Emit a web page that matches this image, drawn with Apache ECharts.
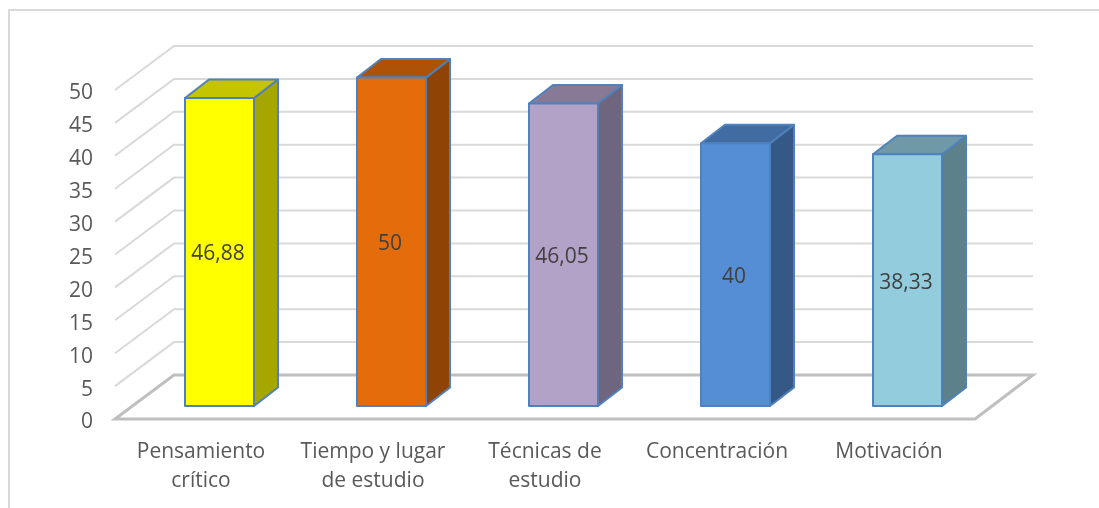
<!DOCTYPE html>
<html>
<head>
<meta charset="utf-8">
<style>html,body{margin:0;padding:0;background:#fff}#c{width:1099px;height:508px}</style>
<script src="https://cdn.jsdelivr.net/npm/echarts@6/dist/echarts.min.js"></script>
</head>
<body>
<div id="c"></div>
<script>
var categories = ['Pensamiento\ncrítico', 'Tiempo y lugar\nde estudio', 'Técnicas de\nestudio', 'Concentración', 'Motivación'];
var values = [46.88, 50, 46.05, 40, 38.33];
var valueLabels = ['46,88', '50', '46,05', '40', '38,33'];
var yTicks = [0, 5, 10, 15, 20, 25, 30, 35, 40, 45, 50];

var frontColors = ['#FFFF00', '#E46C0A', '#B3A2C7', '#558ED5', '#93CDDD'];
var topColors = ['#C4C400', '#AD5207', '#887A97', '#416CA2', '#7099A8'];
var sideColors = ['#A6A600', '#8F4405', '#70657E', '#355986', '#5C818B'];

var DEPTH_X = 59, DEPTH_Y = 44;
var BAR_SHIFT_X = 18.5, BAR_SHIFT_Y = 13, BAR_W = 69, SIDE_X = 24, SIDE_Y = 18.5;
var BORDER = '#4F81BD';
var FONT = '"Open Sans", sans-serif';

function renderWall(params, api) {
  var v = api.value(0);
  var a = api.coord([0, v]);
  var left = params.coordSys.x;
  var right = left + params.coordSys.width;
  var y = a[1];
  if (v === 0) {
    return {
      type: 'polygon',
      shape: { points: [[left, y], [right, y], [right + DEPTH_X - 1, y - DEPTH_Y], [left + DEPTH_X, y - DEPTH_Y]] },
      style: { fill: 'none', stroke: '#BFBFBF', lineWidth: 3, lineJoin: 'miter' }
    };
  }
  return {
    type: 'polyline',
    shape: { points: [[left, y], [left + DEPTH_X, y - DEPTH_Y], [right + DEPTH_X - 1, y - DEPTH_Y]] },
    style: { fill: 'none', stroke: '#D9D9D9', lineWidth: 2 }
  };
}

function renderBar(params, api) {
  var i = api.value(0);
  var top = api.coord([i, api.value(1)]);
  var base = api.coord([i, 0]);
  var x0 = top[0] + BAR_SHIFT_X - BAR_W / 2, x1 = x0 + BAR_W;
  var yT = top[1] - BAR_SHIFT_Y + 0.5, yB = base[1] - BAR_SHIFT_Y;
  var common = { stroke: BORDER, lineWidth: 2, lineJoin: 'round' };
  function face(points, fill) {
    return { type: 'polygon', shape: { points: points }, style: Object.assign({ fill: fill }, common) };
  }
  return {
    type: 'group',
    children: [
      face([[x1, yT], [x1 + SIDE_X, yT - SIDE_Y], [x1 + SIDE_X, yB - SIDE_Y], [x1, yB]], sideColors[i]),
      face([[x0, yT], [x0 + SIDE_X, yT - SIDE_Y], [x1 + SIDE_X, yT - SIDE_Y], [x1, yT]], topColors[i]),
      face([[x0, yT], [x1, yT], [x1, yB], [x0, yB]], frontColors[i]),
      {
        type: 'text',
        style: {
          x: (x0 + x1) / 2 - 1.5, y: (yT + yB) / 2 + 2.5,
          text: valueLabels[i], align: 'center', verticalAlign: 'middle',
          fill: '#404040', font: '21px ' + FONT
        }
      }
    ]
  };
}

var chart = echarts.init(document.getElementById('c'), null, { renderer: 'canvas' });
chart.setOption({
  animation: false,
  backgroundColor: '#fff',
  graphic: [{
    type: 'rect', silent: true, z: -1,
    shape: { x: 9, y: 10, width: 1110, height: 520 },
    style: { fill: 'none', stroke: '#D9D9D9', lineWidth: 2 }
  }],
  grid: { left: 115, top: 90, width: 860, height: 329 },
  xAxis: {
    type: 'category', data: categories,
    axisLine: { show: false }, axisTick: { show: false }, splitLine: { show: false },
    axisLabel: { color: '#595959', fontFamily: FONT, fontSize: 21, lineHeight: 29, margin: 19, interval: 0 }
  },
  yAxis: {
    type: 'value', min: 0, max: 50, interval: 5,
    axisLine: { show: false }, axisTick: { show: false }, splitLine: { show: false },
    axisLabel: { color: '#595959', fontFamily: FONT, fontSize: 21, margin: 22, verticalAlign: 'top', lineHeight: 7 }
  },
  series: [
    { type: 'custom', renderItem: renderWall, data: yTicks.map(function (t) { return [t]; }), encode: { y: 0 }, z: 1, silent: true },
    { type: 'custom', renderItem: renderBar, data: values.map(function (v, i) { return [i, v]; }), encode: { x: 0, y: 1 }, z: 2, silent: true }
  ]
});
</script>
</body>
</html>
